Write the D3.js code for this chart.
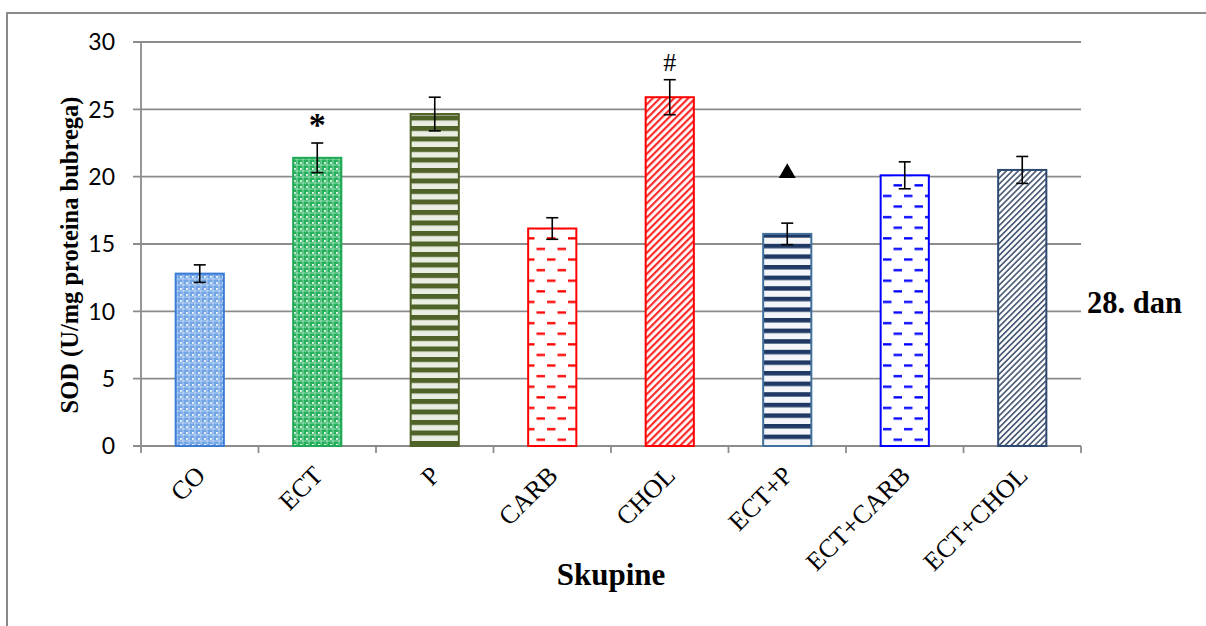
<!DOCTYPE html>
<html>
<head>
<meta charset="utf-8">
<script src="https://cdn.jsdelivr.net/npm/d3@7"></script>
<style>
html,body{margin:0;padding:0;background:#fff;}
svg{display:block;}
</style>
</head>
<body>
<svg id="chart" width="1206" height="626"></svg>
<script>
// ---- data ----
const categories = ["CO","ECT","P","CARB","CHOL","ECT+P","ECT+CARB","ECT+CHOL"];
const values     = [12.8, 21.4, 24.65, 16.15, 25.9, 15.75, 20.1, 20.5];
const errors     = [0.65, 1.1, 1.25, 0.8, 1.3, 0.8, 1.0, 1.0];
const marks      = ["", "*", "", "", "#", "▲", "", ""];
const yTicks     = [0, 5, 10, 15, 20, 25, 30];
const yTitle     = "SOD (U/mg proteina bubrega)";
const xTitle     = "Skupine";
const sideNote   = "28. dan";

const svg = d3.select("#chart");
const m = {left:141, right:1081, top:42, bottom:446};
const serif = "'Liberation Serif','Times New Roman',serif";

// frame
svg.append("rect").attr("x",7).attr("y",13).attr("width",1210).attr("height",640)
  .attr("fill","none").attr("stroke","#8a8a8a").attr("stroke-width",2);

const x = d3.scaleBand().domain(categories).range([m.left, m.right]).padding(0);
const y = d3.scaleLinear().domain([0,30]).range([m.bottom, m.top]);
const barW = x.bandwidth()*0.41;

// ---- patterns ----
const defs = svg.append("defs");
function dotGrid(id, base, light){
  const p = defs.append("pattern").attr("id",id).attr("patternUnits","userSpaceOnUse")
    .attr("width",6).attr("height",6);
  p.append("rect").attr("width",6).attr("height",6).attr("fill",base);
  p.append("rect").attr("x",0).attr("y",2.5).attr("width",6).attr("height",1).attr("fill",light).attr("opacity",0.5);
  p.append("rect").attr("x",2.5).attr("y",0).attr("width",1).attr("height",6).attr("fill",light).attr("opacity",0.5);
  p.append("rect").attr("x",0).attr("y",0).attr("width",1.8).attr("height",1.8).attr("fill","#fff").attr("opacity",0.95);
}
function hStripes(id, dark, light, period, darkH){
  const p = defs.append("pattern").attr("id",id).attr("patternUnits","userSpaceOnUse")
    .attr("width",10).attr("height",period);
  p.append("rect").attr("width",10).attr("height",period).attr("fill",light);
  p.append("rect").attr("y",0).attr("width",10).attr("height",darkH).attr("fill",dark);
}
function dashes(id, color){
  const p = defs.append("pattern").attr("id",id).attr("patternUnits","userSpaceOnUse")
    .attr("width",21).attr("height",21.2);
  p.append("rect").attr("width",21).attr("height",21.2).attr("fill","#fff");
  p.append("rect").attr("x",1).attr("y",4).attr("width",8.5).attr("height",2.3).attr("fill",color);
  p.append("rect").attr("x",11.5).attr("y",14.6).attr("width",8.5).attr("height",2.3).attr("fill",color);
}
function diag(id, color, period, lw){
  const p = defs.append("pattern").attr("id",id).attr("patternUnits","userSpaceOnUse")
    .attr("width",period).attr("height",period).attr("patternTransform","rotate(45)");
  p.append("rect").attr("width",period).attr("height",period).attr("fill","#fff");
  p.append("rect").attr("x",0).attr("y",0).attr("width",lw).attr("height",period).attr("fill",color);
}
dotGrid("pCO", "#70a4e4", "#ffffff");
dotGrid("pECT", "#25b15c", "#ffffff");
hStripes("pP", "#4f6228", "#e9ede2", 10.5, 5);
dashes("pCARB", "#ff0000");
diag("pCHOL", "#ff2a2a", 5, 2.2);
hStripes("pECTP", "#1f3864", "#f4f6fa", 10.6, 4.5);
dashes("pECTCARB", "#0000ff");
diag("pECTCHOL", "#4d5e7a", 4.2, 1.7);

const fills   = ["url(#pCO)","url(#pECT)","url(#pP)","url(#pCARB)","url(#pCHOL)","url(#pECTP)","url(#pECTCARB)","url(#pECTCHOL)"];
const strokes = ["#3a7bd5","#1fa856","#4f6228","#ff0000","#ff0000","#41719c","#0000ff","#2e4a70"];

// ---- gridlines ----
const gridColor = "#8c8c8c";
svg.append("g").selectAll("line").data(yTicks).join("line")
  .attr("x1", m.left-8).attr("x2", m.right)
  .attr("y1", d=>y(d)).attr("y2", d=>y(d))
  .attr("stroke", gridColor).attr("stroke-width",1.8);
svg.append("line").attr("x1",m.left).attr("x2",m.left).attr("y1",y(30)).attr("y2",y(0))
  .attr("stroke",gridColor).attr("stroke-width",1.8);
const bounds = categories.map(c=>x(c)).concat([m.right]);
svg.append("g").selectAll("line").data(bounds).join("line")
  .attr("x1",d=>d).attr("x2",d=>d).attr("y1",y(0)).attr("y2",y(0)+7)
  .attr("stroke",gridColor).attr("stroke-width",1.8);

// y tick labels
svg.append("g").selectAll("text").data(yTicks).join("text")
  .attr("x", m.left-26).attr("y", d=>y(d)).attr("dy","0.36em")
  .attr("text-anchor","end").attr("font-family","Lato, 'Open Sans', sans-serif")
  .attr("font-size",23).attr("fill","#000").text(d=>d);

// bars
const cx = c => x(c) + x.bandwidth()/2;
svg.append("g").selectAll("rect").data(categories).join("rect")
  .attr("x", c=>cx(c)-barW/2).attr("width", barW)
  .attr("y", (c,i)=>y(values[i])).attr("height",(c,i)=>y(0)-y(values[i]))
  .attr("fill",(c,i)=>fills[i]).attr("stroke",(c,i)=>strokes[i]).attr("stroke-width",2);

// error bars
const eb = svg.append("g").attr("stroke","#000").attr("stroke-width",1.6);
categories.forEach((c,i)=>{
  const x0 = cx(c), hi = y(values[i]+errors[i]), lo = y(values[i]-errors[i]);
  eb.append("line").attr("x1",x0).attr("x2",x0).attr("y1",hi).attr("y2",lo);
  eb.append("line").attr("x1",x0-6).attr("x2",x0+6).attr("y1",hi).attr("y2",hi);
  eb.append("line").attr("x1",x0-6).attr("x2",x0+6).attr("y1",lo).attr("y2",lo);
});

// significance marks
categories.forEach((c,i)=>{
  const mk = marks[i];
  if(!mk) return;
  const top = y(values[i]+errors[i]);
  if(mk === "▲"){
    svg.append("path").attr("d", d3.symbol(d3.symbolTriangle, 125)())
      .attr("transform",`translate(${cx(c)},${top-50})`).attr("fill","#000");
  } else if(mk === "*"){
    svg.append("text").attr("x",cx(c)).attr("y",top-7).attr("text-anchor","middle")
      .attr("font-family",serif).attr("font-weight","bold").attr("font-size",34).text(mk);
  } else {
    svg.append("text").attr("x",cx(c)).attr("y",top-9).attr("text-anchor","middle")
      .attr("font-family",serif).attr("font-size",26).text(mk);
  }
});

// x labels, rotated
svg.append("g").selectAll("text").data(categories).join("text")
  .attr("transform", c=>`translate(${cx(c)+7},${y(0)+31}) rotate(-45)`)
  .attr("text-anchor","end")
  .attr("font-family",serif).attr("font-size",26)
  .attr("fill","#000").text(c=>c);

// axis titles
svg.append("text").attr("transform",`translate(78,255) rotate(-90)`)
  .attr("text-anchor","middle").attr("font-family",serif)
  .attr("font-weight","bold").attr("font-size",24.5).text(yTitle);
svg.append("text").attr("x",611).attr("y",585).attr("text-anchor","middle")
  .attr("font-family",serif).attr("font-weight","bold").attr("font-size",31).text(xTitle);
svg.append("text").attr("x",1087).attr("y",313)
  .attr("font-family",serif).attr("font-weight","bold").attr("font-size",30.5).text(sideNote);
</script>
</body>
</html>
